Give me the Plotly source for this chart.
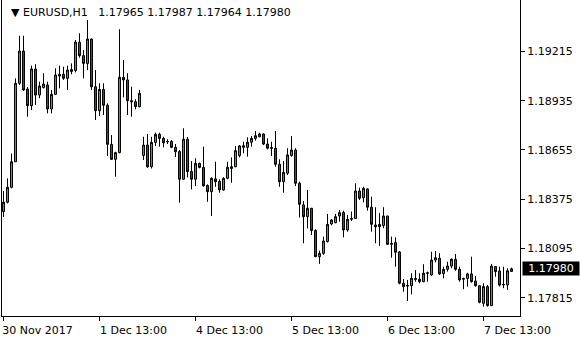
import plotly.graph_objects as go

symbol = "EURUSD,H1"

opens = [
    1.18305, 1.18358, 1.18443, 1.18588, 1.19034, 1.19217, 1.19001, 1.18907, 1.19115, 1.18967,
    1.19009, 1.19024, 1.18888, 1.18971, 1.19075, 1.19085, 1.19062, 1.19101, 1.19107, 1.19267,
    1.19191, 1.19147, 1.19285, 1.19014, 1.18878, 1.18999, 1.18909, 1.18687, 1.18602, 1.18640,
    1.19068, 1.19053, 1.18935, 1.18929, 1.18901, 1.18624, 1.18683, 1.18560, 1.18698, 1.18744,
    1.18721, 1.18704, 1.18704, 1.18670, 1.18646, 1.18489, 1.18716, 1.18533, 1.18489, 1.18579,
    1.18556, 1.18453, 1.18418, 1.18491, 1.18477, 1.18428, 1.18494, 1.18550, 1.18560, 1.18623,
    1.18670, 1.18670, 1.18699, 1.18721, 1.18730, 1.18746, 1.18689, 1.18669, 1.18665, 1.18574,
    1.18475, 1.18523, 1.18624, 1.18655, 1.18466, 1.18343, 1.18276, 1.18324, 1.18198, 1.18049,
    1.18068, 1.18135, 1.18235, 1.18242, 1.18280, 1.18300, 1.18201, 1.18261, 1.18266, 1.18422,
    1.18384, 1.18434, 1.18330, 1.18229, 1.18219, 1.18226, 1.18280, 1.18119, 1.18130, 1.18076,
    1.17898, 1.17885, 1.17884, 1.17919, 1.17921, 1.17907, 1.17955, 1.17945, 1.18030, 1.18040,
    1.17953, 1.17977, 1.17996, 1.18034, 1.17977, 1.17921, 1.17925, 1.17951, 1.17911, 1.17884,
    1.17784, 1.17879, 1.17771, 1.17993, 1.17968, 1.17888, 1.17888, 1.17965,
]
highs = [
    1.18422, 1.18494, 1.18635, 1.19062, 1.19304, 1.19304, 1.19013, 1.19134, 1.19142, 1.19043,
    1.19091, 1.19043, 1.18996, 1.19119, 1.19134, 1.19128, 1.19134, 1.19147, 1.19280, 1.19318,
    1.19223, 1.19393, 1.19289, 1.19109, 1.19034, 1.19034, 1.18920, 1.18740, 1.18645, 1.19341,
    1.19166, 1.19091, 1.19014, 1.18943, 1.18996, 1.18730, 1.18746, 1.18730, 1.18754, 1.18753,
    1.18730, 1.18716, 1.18712, 1.18689, 1.18655, 1.18778, 1.18729, 1.18592, 1.18608, 1.18583,
    1.18674, 1.18460, 1.18500, 1.18588, 1.18489, 1.18500, 1.18588, 1.18613, 1.18678, 1.18683,
    1.18702, 1.18727, 1.18734, 1.18763, 1.18753, 1.18750, 1.18721, 1.18702, 1.18763, 1.18602,
    1.18592, 1.18665, 1.18734, 1.18665, 1.18475, 1.18365, 1.18428, 1.18326, 1.18205, 1.18083,
    1.18163, 1.18292, 1.18263, 1.18292, 1.18314, 1.18310, 1.18286, 1.18305, 1.18466, 1.18441,
    1.18446, 1.18437, 1.18390, 1.18330, 1.18296, 1.18330, 1.18282, 1.18163, 1.18159, 1.18081,
    1.17922, 1.17917, 1.17955, 1.17973, 1.17955, 1.18006, 1.17964, 1.18077, 1.18081, 1.18068,
    1.17992, 1.18020, 1.18040, 1.18064, 1.17992, 1.17930, 1.17958, 1.18049, 1.17939, 1.17888,
    1.17898, 1.17888, 1.18008, 1.17996, 1.17992, 1.17992, 1.17983, 1.17987,
]
lows = [
    1.18274, 1.18352, 1.18437, 1.18587, 1.19024, 1.18990, 1.18844, 1.18882, 1.18911, 1.18949,
    1.19005, 1.18863, 1.18863, 1.18967, 1.19005, 1.19053, 1.18996, 1.19085, 1.19096, 1.19179,
    1.19062, 1.19109, 1.18996, 1.18825, 1.18848, 1.18854, 1.18621, 1.18598, 1.18503, 1.18636,
    1.18954, 1.18854, 1.18844, 1.18886, 1.18897, 1.18598, 1.18553, 1.18550, 1.18678, 1.18674,
    1.18670, 1.18689, 1.18665, 1.18615, 1.18356, 1.18485, 1.18499, 1.18431, 1.18450, 1.18551,
    1.18446, 1.18361, 1.18280, 1.18446, 1.18412, 1.18424, 1.18489, 1.18469, 1.18557, 1.18613,
    1.18636, 1.18617, 1.18674, 1.18708, 1.18727, 1.18683, 1.18659, 1.18621, 1.18560, 1.18446,
    1.18412, 1.18513, 1.18617, 1.18450, 1.18271, 1.18125, 1.18210, 1.18172, 1.18046, 1.18008,
    1.18059, 1.18129, 1.18227, 1.18239, 1.18248, 1.18159, 1.18191, 1.18252, 1.18263, 1.18371,
    1.18358, 1.18310, 1.18191, 1.18125, 1.18110, 1.18210, 1.18115, 1.18043, 1.17992, 1.17892,
    1.17850, 1.17797, 1.17835, 1.17907, 1.17898, 1.17904, 1.17907, 1.17941, 1.18017, 1.17945,
    1.17926, 1.17964, 1.17983, 1.17969, 1.17907, 1.17864, 1.17879, 1.17901, 1.17879, 1.17784,
    1.17765, 1.17765, 1.17769, 1.17935, 1.17879, 1.17870, 1.17860, 1.17964,
]
closes = [
    1.18358, 1.18443, 1.18588, 1.19034, 1.19217, 1.18996, 1.18907, 1.19115, 1.18967, 1.19018,
    1.19030, 1.18888, 1.18971, 1.19081, 1.19085, 1.19062, 1.19109, 1.19112, 1.19268, 1.19191,
    1.19147, 1.19285, 1.19014, 1.18878, 1.18999, 1.18909, 1.18687, 1.18602, 1.18640, 1.19068,
    1.19053, 1.18935, 1.18929, 1.18901, 1.18977, 1.18683, 1.18560, 1.18698, 1.18744, 1.18721,
    1.18696, 1.18702, 1.18670, 1.18645, 1.18489, 1.18716, 1.18532, 1.18489, 1.18579, 1.18556,
    1.18452, 1.18418, 1.18494, 1.18475, 1.18428, 1.18494, 1.18557, 1.18560, 1.18651, 1.18678,
    1.18679, 1.18699, 1.18721, 1.18736, 1.18746, 1.18689, 1.18665, 1.18665, 1.18574, 1.18475,
    1.18528, 1.18627, 1.18655, 1.18466, 1.18347, 1.18276, 1.18324, 1.18197, 1.18049, 1.18068,
    1.18138, 1.18233, 1.18257, 1.18276, 1.18299, 1.18201, 1.18261, 1.18266, 1.18422, 1.18381,
    1.18437, 1.18330, 1.18233, 1.18219, 1.18232, 1.18280, 1.18119, 1.18124, 1.18074, 1.17898,
    1.17879, 1.17883, 1.17926, 1.17925, 1.17907, 1.17955, 1.17957, 1.18030, 1.18043, 1.17951,
    1.17977, 1.17996, 1.18034, 1.17977, 1.17917, 1.17925, 1.17951, 1.17907, 1.17884, 1.17790,
    1.17879, 1.17771, 1.17996, 1.17964, 1.17888, 1.17891, 1.17969, 1.17980,
]

tick_bars = [0, 24, 48, 72, 96, 120]
tick_labels = ["30 Nov 2017", "1 Dec 13:00", "4 Dec 13:00", "5 Dec 13:00", "6 Dec 13:00", "7 Dec 13:00"]
price_ticks = [1.17815, 1.18095, 1.18375, 1.18655, 1.18935, 1.19215]

bars = list(range(len(opens)))

FONT = "DejaVu Sans"
GREEN = "#22cc22"
RED = "#dd1414"

fig = go.Figure()
fig.add_trace(go.Candlestick(
    x=bars, open=opens, high=highs, low=lows, close=closes,
    increasing=dict(fillcolor=GREEN, line=dict(color="black", width=1)),
    decreasing=dict(fillcolor=RED, line=dict(color="black", width=1)),
    whiskerwidth=0,
    showlegend=False,
    hoverinfo="skip",
))

header = "\u25BC\u00a0%s\u00a0\u00a0\u00a0%.5f %.5f %.5f %.5f" % (
    symbol, opens[-1], highs[-1], lows[-1], closes[-1])

fig.update_layout(
    template="none",
    width=580, height=340,
    margin=dict(l=2, r=60, t=0, b=24, pad=0),
    paper_bgcolor="white", plot_bgcolor="white",
    font=dict(family=FONT, size=11, color="black"),
    showlegend=False,
    xaxis=dict(
        range=[-0.375, 129.125],
        rangeslider=dict(visible=False),
        showgrid=False, zeroline=False,
        showline=True, linecolor="black", linewidth=1,
        tickmode="array", tickvals=tick_bars, ticktext=tick_labels,
        ticks="outside", ticklen=4, tickcolor="black", tickwidth=1,
        ticklabelshift=34,
        tickfont=dict(family=FONT, size=11, color="black"),
        automargin=False, fixedrange=True,
    ),
    yaxis=dict(
        range=[1.17712, 1.19507],
        side="right",
        showgrid=False, zeroline=False,
        showline=True, linecolor="black", linewidth=1, mirror=True,
        tickmode="array", tickvals=price_ticks,
        tickformat=".5f",
        ticks="outside", ticklen=4, tickcolor="black", tickwidth=1,
        tickfont=dict(family=FONT, size=11, color="black"),
        automargin=False, fixedrange=True,
    ),
    annotations=[
        dict(
            text=header, xref="paper", yref="paper", x=0.013, y=0.961,
            xanchor="left", yanchor="middle", showarrow=False,
            font=dict(family=FONT, size=11, color="black"),
        ),
        dict(
            text="%.5f" % closes[-1], xref="paper", yref="y", x=1, y=closes[-1],
            xanchor="left", yanchor="middle", xshift=2, showarrow=False,
            bgcolor="black", font=dict(family=FONT, size=11, color="white"),
            width=56, height=13, borderpad=0, align="center",
        ),
    ],
)

fig.write_html("out.html")
